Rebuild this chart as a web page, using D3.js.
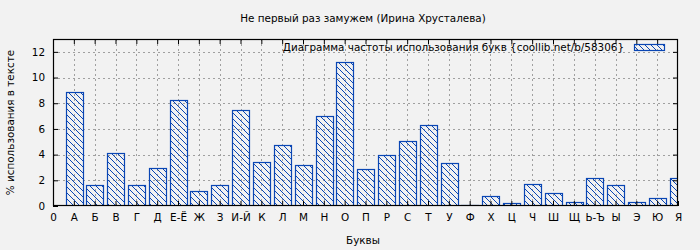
<!DOCTYPE html>
<meta charset="utf-8" />
<title>Не первый раз замужем</title>
<script src="https://d3js.org/d3.v7.min.js"></script>
<style>
  body { margin: 0; background: #f2f2f2; }
  svg text { font-family: "DejaVu Sans", sans-serif; fill: #000; }
</style>
<body>
<div id="chart"></div>
<script>
  // letters (categories) and their share in the text, %
  var letters = ['А','Б','В','Г','Д','Е-Ё','Ж','З','И-Й','К','Л','М','Н','О','П',
                 'Р','С','Т','У','Ф','Х','Ц','Ч','Ш','Щ','Ь-Ъ','Ы','Э','Ю','Я'];
  var freqs   = [8.88, 1.62, 4.12, 1.62, 2.94, 8.26, 1.15, 1.62, 7.47, 3.41, 4.74, 3.18, 7.0, 11.22, 2.86,
                 3.96, 5.05, 6.3, 3.33, 0.08, 0.78, 0.21, 1.7, 0.99, 0.29, 2.16, 1.62, 0.29, 0.6, 2.16];
  var yTicks  = [0, 2, 4, 6, 8, 10, 12];

  var W = 700, H = 250;
  var m = {top: 39, right: 22, bottom: 44, left: 53};
  var blue = '#0a46b4';
  var fs = '10.4px';

  var svg = d3.select('#chart').append('svg')
    .attr('width', W).attr('height', H)
    .style('background', '#f2f2f2');

  // hatch pattern for the bars
  var pat = svg.append('defs').append('pattern')
    .attr('id', 'hatch')
    .attr('patternUnits', 'userSpaceOnUse')
    .attr('width', 6).attr('height', 6);
  pat.append('path')
    .attr('d', 'M-1,-1 L7,7 M-7,-1 L1,7 M5,-1 L13,7')
    .attr('stroke', blue).attr('stroke-width', 1);

  var x = d3.scaleLinear().domain([0, letters.length]).range([m.left, W - m.right]);
  var y = d3.scaleLinear().domain([0, 13]).range([H - m.bottom, m.top]);
  var bw = (x(1) - x(0)) * 0.8;

  svg.append('clipPath').attr('id', 'clip').append('rect')
    .attr('x', m.left).attr('y', m.top)
    .attr('width', W - m.right - m.left).attr('height', H - m.bottom - m.top);

  // grid
  var grid = svg.append('g').attr('stroke', '#a0a0a0').attr('stroke-dasharray', '2,3')
    .attr('stroke-width', 1);
  yTicks.slice(1).forEach(function(t) {
    grid.append('line')
      .attr('x1', m.left).attr('x2', W - m.right)
      .attr('y1', Math.round(y(t)) + 0.5).attr('y2', Math.round(y(t)) + 0.5);
  });
  d3.range(1, letters.length).forEach(function(i) {
    grid.append('line')
      .attr('x1', Math.round(x(i)) + 0.5).attr('x2', Math.round(x(i)) + 0.5)
      .attr('y1', m.top).attr('y2', H - m.bottom);
  });

  // bars
  svg.append('g').attr('clip-path', 'url(#clip)')
    .selectAll('rect').data(freqs).enter().append('rect')
    .attr('x', function(d, i) { return Math.round(x(i + 1) - bw / 2) + 0.5; })
    .attr('y', function(d) { return Math.min(Math.round(y(d)), Math.round(y(0)) - 1) + 0.5; })
    .attr('width', Math.round(bw))
    .attr('height', function(d) { return Math.max(1, Math.round(y(0)) - Math.round(y(d))); })
    .attr('fill', 'url(#hatch)')
    .attr('stroke', blue).attr('stroke-width', 1.2);

  // axes
  var yAxis = d3.axisLeft(y).tickValues(yTicks).tickSize(-5).tickPadding(8);
  var gy = svg.append('g').attr('transform', 'translate(' + m.left + ',0)').call(yAxis);
  var gy2 = svg.append('g').attr('transform', 'translate(' + (W - m.right) + ',0)')
    .call(d3.axisRight(y).tickValues(yTicks.slice(1)).tickSize(-5).tickFormat(''));
  var xAxis = d3.axisBottom(x).tickValues(d3.range(0, letters.length + 1)).tickSize(-5).tickPadding(8)
    .tickFormat(function(d) { return d === 0 ? '0' : letters[d - 1]; });
  var gx = svg.append('g').attr('transform', 'translate(0,' + (H - m.bottom) + ')').call(xAxis);
  var gx2 = svg.append('g').attr('transform', 'translate(0,' + m.top + ')')
    .call(d3.axisTop(x).tickValues(d3.range(1, letters.length)).tickSize(-5).tickFormat(''));
  [gy, gx, gy2, gx2].forEach(function(g) {
    g.select('.domain').remove();
    g.selectAll('line').attr('stroke', '#000');
    g.selectAll('text').style('font-size', fs);
  });

  // frame
  svg.append('rect')
    .attr('x', m.left + 0.5).attr('y', m.top + 0.5)
    .attr('width', W - m.right - m.left - 1).attr('height', H - m.bottom - m.top - 1)
    .attr('fill', 'none').attr('stroke', '#000').attr('stroke-width', 1.2);

  // titles
  svg.append('text').attr('x', 363).attr('y', 22).attr('text-anchor', 'middle')
    .style('font-size', fs).text('Не первый раз замужем (Ирина Хрусталева)');
  svg.append('text').attr('x', 363).attr('y', 244).attr('text-anchor', 'middle')
    .style('font-size', fs).text('Буквы');
  svg.append('text').attr('transform', 'translate(14,' + ((m.top + H - m.bottom) / 2) + ') rotate(-90)')
    .attr('text-anchor', 'middle').style('font-size', fs).text('% использования в тексте');

  // legend
  svg.append('text').attr('x', 624).attr('y', 51).attr('text-anchor', 'end')
    .style('font-size', fs).text('Диаграмма частоты использования букв {coollib.net/b/58306}');
  svg.append('rect').attr('x', 634.5).attr('y', 44.5).attr('width', 30).attr('height', 6)
    .attr('fill', 'url(#hatch)').attr('stroke', blue).attr('stroke-width', 1.2);
</script>
</body>
